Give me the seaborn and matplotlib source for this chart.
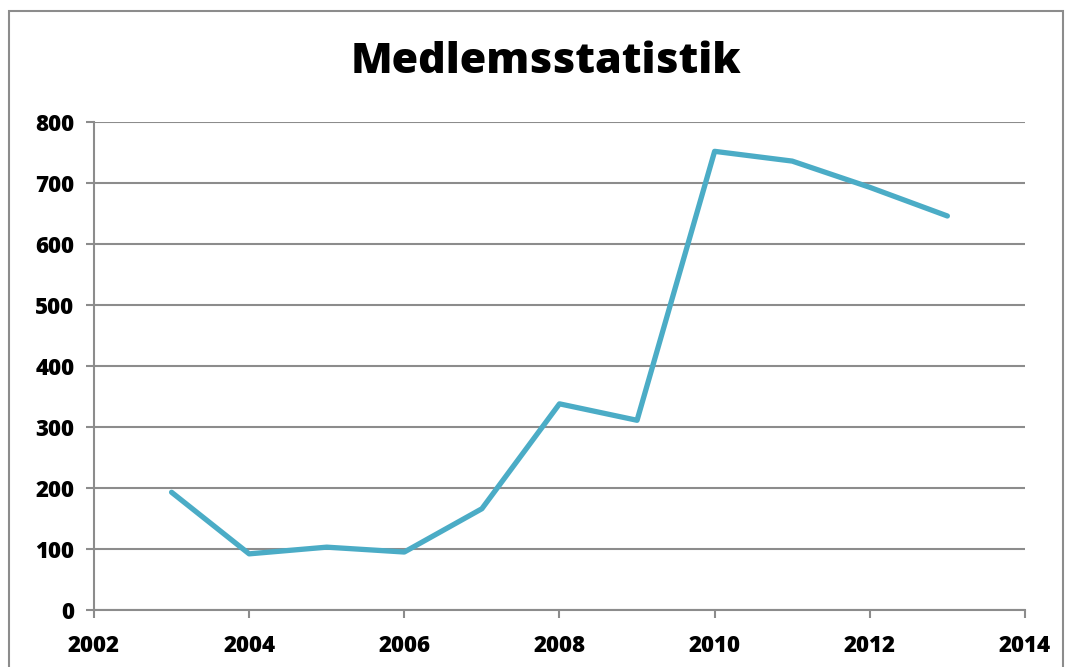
import numpy as np
import pandas as pd
import seaborn as sns
import matplotlib.pyplot as plt
from matplotlib.patches import Rectangle

# Medlemsstatistik per år
years = [2003, 2004, 2005, 2006, 2007, 2008, 2009, 2010, 2011, 2012, 2013]
members = [193, 92, 103, 95, 166, 338, 311, 752, 736, 693, 646]
x_ticks = [2002, 2004, 2006, 2008, 2010, 2012, 2014]
y_ticks = [0, 100, 200, 300, 400, 500, 600, 700, 800]

df = pd.DataFrame({"År": years, "Medlemmar": members})

sns.set_theme(style="white")
plt.rcParams['font.family'] = ['Open Sans', 'DejaVu Sans']

fig = plt.figure(figsize=(10.68, 6.67), dpi=100)
ax = fig.add_axes([0.088, 0.0855, 0.8717, 0.7315])

sns.lineplot(data=df, x="År", y="Medlemmar", ax=ax, color="#4BACC6",
             linewidth=3.8, solid_capstyle="round", solid_joinstyle="round")

ax.set_xlim(2002, 2014)
ax.set_ylim(0, 800)
ax.set_xticks(x_ticks)
ax.set_yticks(y_ticks)
ax.set_xlabel("")
ax.set_ylabel("")

# gridlinjer
ax.yaxis.grid(True, color="#8c8c8c", linewidth=1.5)
ax.xaxis.grid(False)
ax.set_axisbelow(True)
for s in ["top", "right"]:
    ax.spines[s].set_visible(False)
for s in ["left", "bottom"]:
    ax.spines[s].set_color("#8c8c8c")
    ax.spines[s].set_linewidth(1.5)

ax.tick_params(axis="both", which="major", length=6, width=1.5, color="#8c8c8c",
               direction="out", bottom=True, left=True, labelsize=16, pad=8)
for lbl in ax.get_xticklabels() + ax.get_yticklabels():
    lbl.set_fontweight("heavy")
    lbl.set_color("black")
ax.tick_params(axis="x", pad=11)

fig.text(0.511, 0.907, "Medlemsstatistik", ha="center", va="center",
         fontsize=31, fontweight="heavy", color="black")

# ram runt diagrammet
fig.patches.append(Rectangle((9 / 1068, -0.1), 1054 / 1068, 1.1 - 11 / 667,
                             transform=fig.transFigure, fill=False,
                             edgecolor="#8c8c8c", linewidth=1.5))

fig.savefig("out.png", dpi=100)
